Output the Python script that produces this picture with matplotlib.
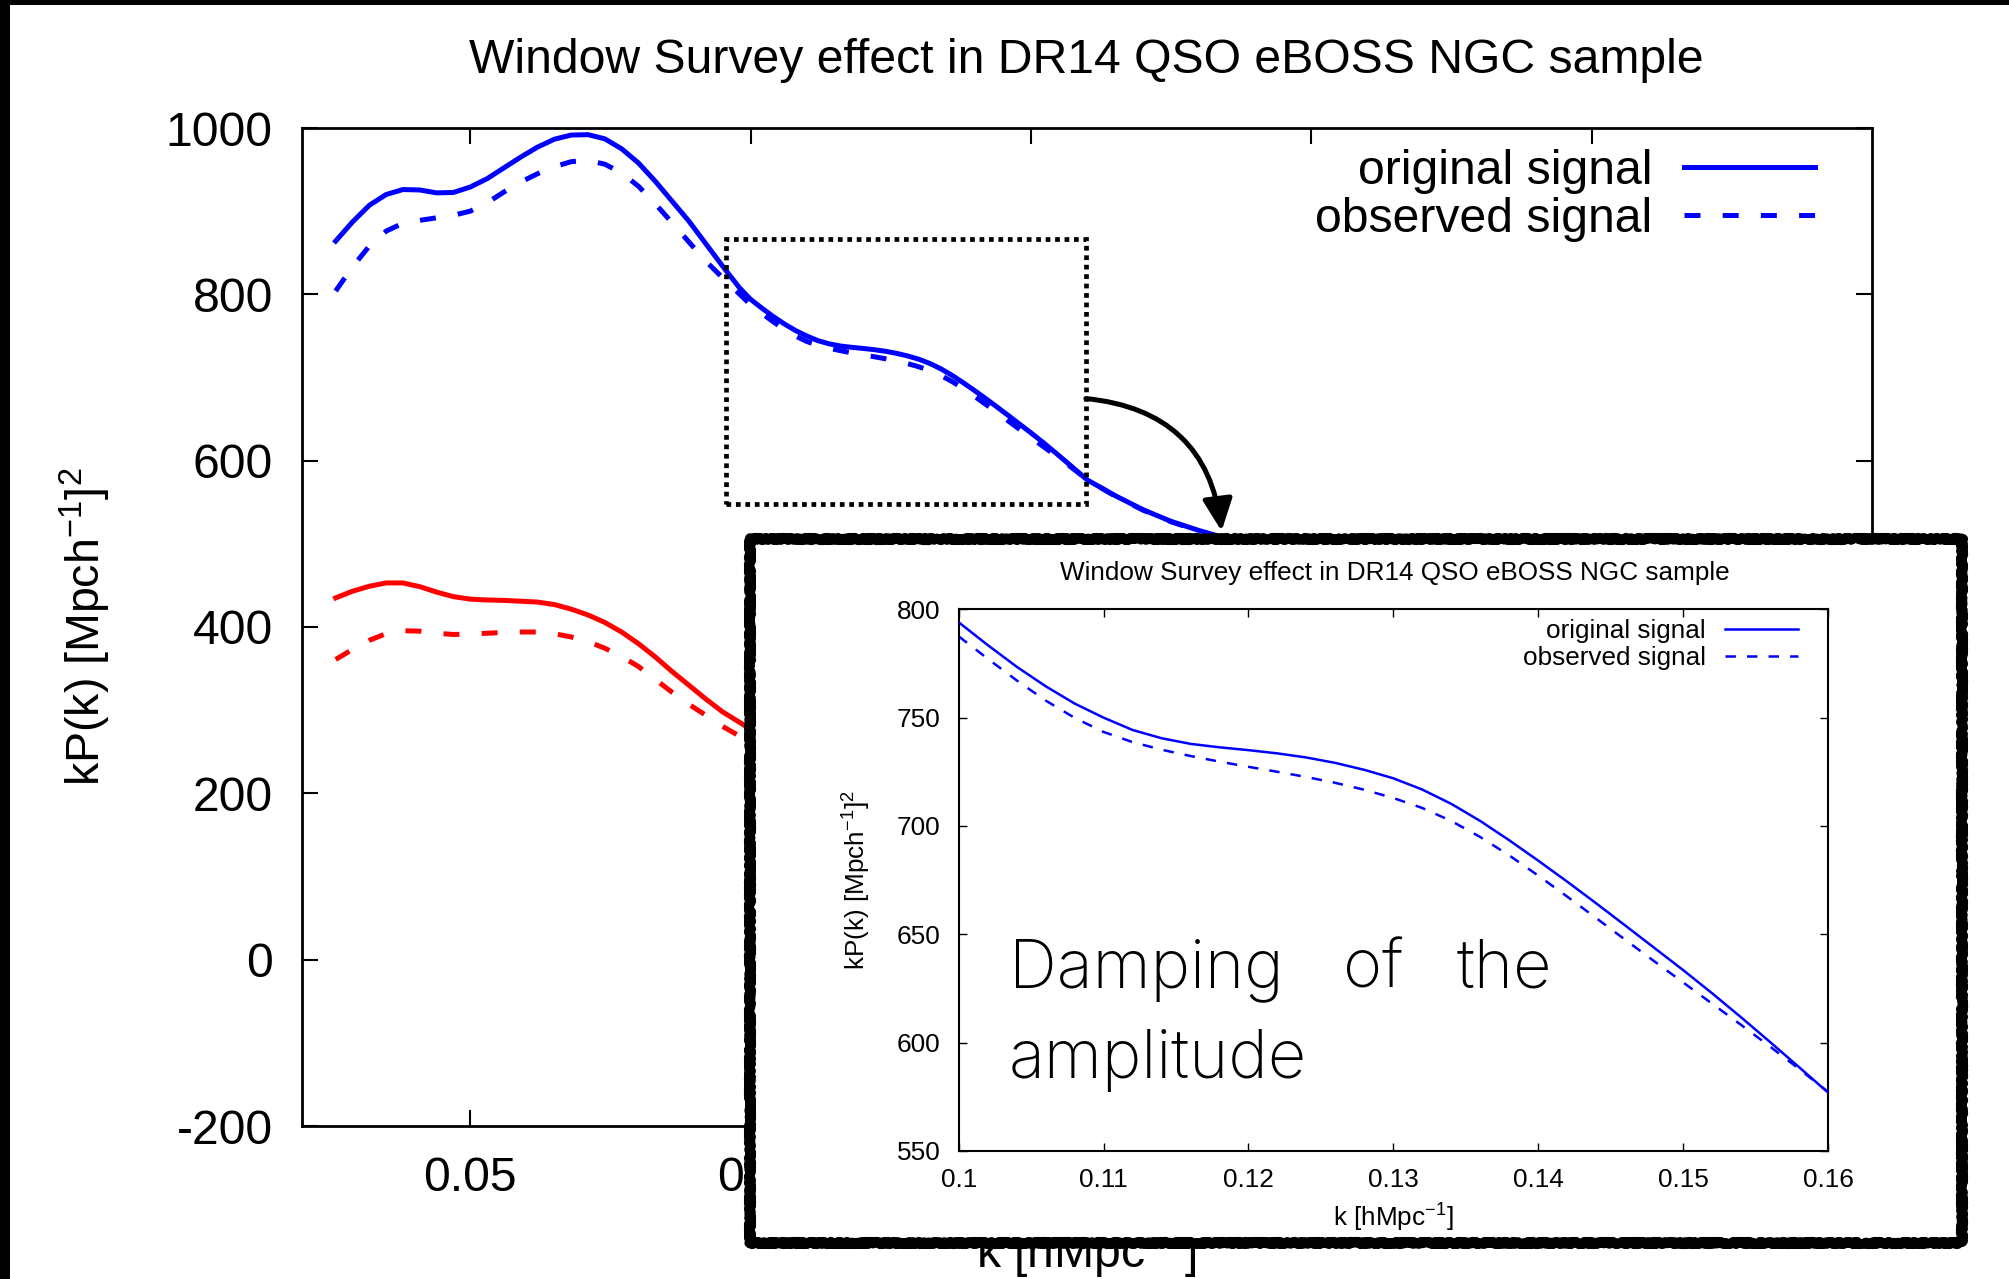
import matplotlib
matplotlib.use('Agg')
import matplotlib.pyplot as plt
from matplotlib.patches import Rectangle
from matplotlib.ticker import FormatStrFormatter

plt.rcParams['font.family'] = ['Liberation Sans', 'DejaVu Sans']
plt.rcParams['mathtext.fontset'] = 'custom'
plt.rcParams['mathtext.rm'] = 'Liberation Sans'
plt.rcParams['mathtext.it'] = 'Liberation Sans:italic'
plt.rcParams['mathtext.bf'] = 'Liberation Sans:bold'
plt.rcParams['mathtext.default'] = 'regular'
plt.rcParams['lines.scale_dashes'] = False

title = 'Window Survey effect in DR14 QSO eBOSS NGC sample'
ylab = r'kP(k) [Mpch$^{-1}$]$^{2}$'
xlab = r'k [hMpc$^{-1}$]'

# low-k part of the main panel
k_low = [0.026, 0.029, 0.032, 0.035, 0.038, 0.041, 0.044, 0.047, 0.050, 0.053,
         0.056, 0.059, 0.062, 0.065, 0.068, 0.071, 0.074, 0.077, 0.080, 0.083,
         0.086, 0.089, 0.092, 0.095, 0.098]
orig_low = [864, 887, 907, 920, 926, 925.5, 922, 922.5, 929, 939, 952, 965, 977, 986.5,
            991.5, 992, 987, 975, 958, 936, 912, 888, 861, 834, 808]
obs_low = [804, 833, 858, 876, 885.5, 889, 892, 895, 900, 910, 923, 935, 945, 953.5,
           959.5, 961, 956.5, 946, 930, 909, 886, 863, 840, 820, 800.5]

# red pair (runs under the zoom card after k~0.1)
k_red = k_low + [0.101]
red_orig = [435, 443, 449, 453, 453, 448.5, 442, 436.5, 433.5, 432.5, 432, 431, 430,
            427, 421.5, 414.5, 405.5, 394, 380, 364, 346.5, 330, 313.5, 298, 285.5, 273]
red_obs = [361, 373, 384, 392, 395.5, 395, 392.5, 391, 391.5, 392.5, 393.5, 394, 394,
           392, 388, 382.5, 374.5, 364.5, 352.5, 337, 321.5, 307, 294, 280.5, 269, 257]

# zoomed range 0.1 - 0.16
k_zoom = [0.100, 0.102, 0.104, 0.106, 0.108, 0.110, 0.112, 0.114, 0.116, 0.118,
          0.120, 0.122, 0.124, 0.126, 0.128, 0.130, 0.132, 0.134, 0.136, 0.138,
          0.140, 0.142, 0.144, 0.146, 0.148, 0.150, 0.152, 0.154, 0.156, 0.158, 0.160]
orig_zoom = [794, 783.5, 773.5, 764.5, 756.5, 750, 744.3, 740.5, 737.9, 736.3, 735,
             733.5, 731.6, 729.1, 725.9, 722, 716.8, 710.2, 702.3, 693.4, 684,
             674.3, 664.3, 654.1, 643.8, 633.5, 622.8, 611.7, 600.3, 588.7, 577]
obs_zoom = [787.5, 777.2, 767.2, 757.9, 749.9, 743.4, 738.7, 735.2, 732.3, 729.7, 727.3,
            725, 722.6, 719.9, 716.7, 712.9, 708.3, 702.3, 694.9, 686.4, 677.1,
            667.4, 657.5, 647.5, 637.6, 627.8, 618, 608.2, 598.2, 587.9, 577.3]

k_high = [0.165, 0.170, 0.175, 0.180, 0.185, 0.190]
orig_high = [558, 541, 527, 516, 506, 497]
obs_high = [557.5, 540.5, 526.5, 515.5, 506, 497]

main_xticks = [0.05, 0.1, 0.15, 0.2, 0.25]
main_yticks = [-200, 0, 200, 400, 600, 800, 1000]
zoom_xticks = [0.1, 0.11, 0.12, 0.13, 0.14, 0.15, 0.16]
zoom_yticks = [550, 600, 650, 700, 750, 800]

W, H = 2009, 1279
FS = 34.7     # main panel text
FSI = 18.8    # zoom card text
fig = plt.figure(figsize=(W / 100, H / 100), dpi=100)

# ---- main panel
ax = fig.add_axes([302 / W, 1 - 1126 / H, 1570 / W, 998 / H], zorder=0)
blue, red = '#0000ff', '#ff0000'
ax.plot(k_red, red_orig, color=red, lw=3.6, zorder=3)
ax.plot(k_red, red_obs, color=red, lw=3.6, ls=(0, (11.5, 16)), zorder=2)
ax.plot(k_low + k_zoom + k_high, orig_low + orig_zoom + orig_high, color=blue, lw=3.6,
        zorder=3, label='original signal')
ax.plot(k_low + k_zoom + k_high, obs_low + obs_zoom + obs_high, color=blue, lw=3.6,
        ls=(0, (11.5, 16)), zorder=2, label='observed signal')

ax.set_xlim(0.02, 0.30)
ax.set_ylim(-200, 1000)
ax.set_xticks(main_xticks)
ax.set_yticks(main_yticks)
ax.xaxis.set_major_formatter(FormatStrFormatter('%g'))
ax.yaxis.set_major_formatter(FormatStrFormatter('%d'))
ax.tick_params(direction='in', top=True, right=True, length=11.5, width=1.5, labelsize=FS)
ax.tick_params(axis='x', pad=21.5)
ax.tick_params(axis='y', pad=21)
for s in ax.spines.values():
    s.set_linewidth(2)

ax.legend(loc='upper right', bbox_to_anchor=(0.9634, 0.9787), markerfirst=False,
          frameon=False, fontsize=FS, handlelength=2.7, handletextpad=0.67,
          borderaxespad=0, borderpad=0, labelspacing=0.06)

# dotted selection box + arrow
ax.add_patch(Rectangle((0.0957, 547.4), 0.0641, 319, fill=False, ec='black', lw=3.4,
                       ls=(0, (3.4, 3.4)), capstyle='butt', zorder=4))
ax.annotate('', xy=(0.184, 515.3), xytext=(0.1598, 674.7),
            arrowprops=dict(arrowstyle='-|>,head_length=0.97,head_width=0.45',
                            connectionstyle='arc3,rad=-0.4', lw=3.6, color='black',
                            shrinkA=0, shrinkB=0, mutation_scale=20), zorder=5)

fig.text(1086 / W, 1 - 73 / H, title, ha='center', va='baseline', fontsize=FS)
fig.text(85 / W, 1 - 627 / H, ylab, rotation=90, ha='center', va='center', fontsize=33.5)
fig.text(1086 / W, 1 - 1268 / H, xlab, ha='center', va='baseline', fontsize=FS, zorder=0.5)

# ---- zoom card (white with a rough border)
bx0, bx1, by0, by1 = 750, 1962, 539, 1243
fig.add_artist(Rectangle((bx0 / W, 1 - by1 / H), (bx1 - bx0) / W, (by1 - by0) / H,
                         transform=fig.transFigure, fc='white', ec='none', zorder=1))
border = Rectangle((bx0 / W, 1 - by1 / H), (bx1 - bx0) / W, (by1 - by0) / H,
                   transform=fig.transFigure, fill=False, ec='black', lw=7, zorder=3,
                   joinstyle='round', capstyle='round')
border.set_sketch_params(scale=1.3, length=3, randomness=3)
fig.add_artist(border)

ins = fig.add_axes([958.7 / W, 1 - 1151 / H, 869.3 / W, 541.7 / H], zorder=2)
ins.plot(k_zoom, orig_zoom, color=blue, lw=1.8, zorder=3, label='original signal')
ins.plot(k_zoom, obs_zoom, color=blue, lw=1.8, ls=(0, (7.5, 8)), zorder=2,
         label='observed signal')
ins.set_xlim(0.1, 0.16)
ins.set_ylim(550, 800)
ins.set_xticks(zoom_xticks)
ins.set_yticks(zoom_yticks)
ins.xaxis.set_major_formatter(FormatStrFormatter('%g'))
ins.yaxis.set_major_formatter(FormatStrFormatter('%d'))
ins.tick_params(direction='in', top=True, right=True, length=6, width=1, labelsize=FSI)
ins.tick_params(axis='x', pad=12)
ins.tick_params(axis='y', pad=13)
for s in ins.spines.values():
    s.set_linewidth(1.5)
ins.legend(loc='upper right', bbox_to_anchor=(0.9655, 0.982), markerfirst=False,
           frameon=False, fontsize=FSI, handlelength=2.8, handletextpad=0.73,
           borderaxespad=0, borderpad=0, labelspacing=0.1)
ins.text(0.502, 1.054, title, transform=ins.transAxes, ha='center', va='baseline',
         fontsize=FSI)
ins.text(-0.117, 0.5, ylab, transform=ins.transAxes, rotation=90, ha='center',
         va='center', fontsize=FSI)
ins.text(0.5, -0.1395, xlab, transform=ins.transAxes, ha='center', va='baseline',
         fontsize=FSI)

damp = dict(transform=ins.transAxes, va='baseline', ha='left', fontsize=48,
            family=['Inter', 'DejaVu Sans'], fontweight='light', color='black')
ins.text(0.058, 0.3027, 'Damping', **damp)
ins.text(0.4416, 0.3027, 'of', **damp)
ins.text(0.5725, 0.3027, 'the', **damp)
ins.text(0.058, 0.1348, 'amplitude', **damp)

# black screenshot edge on the left and top
fig.add_artist(Rectangle((0, 0), 10 / W, 1, transform=fig.transFigure, fc='black',
                         ec='none', zorder=6))
fig.add_artist(Rectangle((0, 1 - 5 / H), 1, 5 / H, transform=fig.transFigure, fc='black',
                         ec='none', zorder=6))

fig.savefig('out.png', dpi=100)
